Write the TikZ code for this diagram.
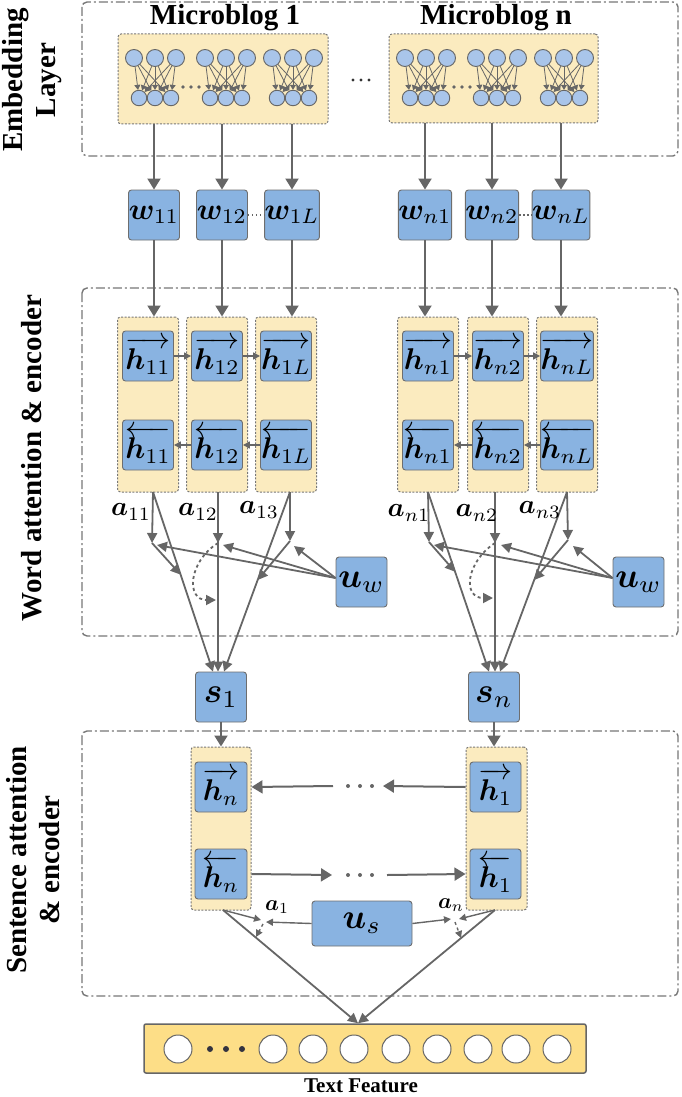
\documentclass[tikz,border=0pt]{standalone}
\usepackage{amsmath,bm}
\usepackage[no-math]{fontspec}
\setmainfont{Liberation Serif}
\usetikzlibrary{arrows.meta,calc}
\definecolor{lin}{HTML}{666666}
\definecolor{dsh}{HTML}{777777}
\definecolor{bord}{HTML}{6E6E6E}
\definecolor{blu}{HTML}{89B3E1}
\definecolor{cblu}{HTML}{A9C5EA}
\definecolor{yel}{HTML}{FBEBBF}
\definecolor{yeltwo}{HTML}{FDDE87}
\definecolor{dotc}{HTML}{333340}
\newcommand{\sidef}{\bfseries\fontsize{29}{33}\selectfont}
\newcommand{\mth}[2][3.0]{\scalebox{#1}{$#2$}}
\tikzset{
  outer/.style={draw=dsh, line width=1.4pt, dash pattern=on 9pt off 3pt on 2pt off 3pt, rounded corners=5pt},
  ybox/.style={draw=dsh, fill=yel, line width=1pt, dash pattern=on 2pt off 1.5pt, rounded corners=3pt, inner sep=0},
  bbox/.style={draw=bord, fill=blu, line width=0.9pt, rounded corners=3pt, minimum width=51pt, minimum height=50pt, inner sep=0},
  tc/.style={circle, draw=lin, fill=cblu, line width=0.9pt, minimum size=17pt, inner sep=0},
  bc/.style={tc, minimum size=15.5pt},
  narr/.style={draw=lin, line width=0.8pt, -{Triangle[length=5pt,width=6pt]}},
  arr/.style={draw=lin, line width=2pt, -{Triangle[length=11pt,width=13pt]}},
  sarr/.style={draw=lin, line width=1.5pt, -{Triangle[length=7pt,width=7pt]}},
  aarr/.style={draw=lin, line width=1.8pt, -{Triangle[length=10pt,width=10pt]}},
  tarr/.style={draw=lin, line width=1.4pt, -{Triangle[length=7pt,width=7pt]}},
  wcirc/.style={circle, draw=lin, fill=white, line width=1pt, minimum size=28pt, inner sep=0},
  title/.style={font=\sidef},
}
\begin{document}
\begin{tikzpicture}[x=1pt,y=-1pt]
\useasboundingbox (0,0) rectangle (681,1097);
% outer dash-dot boxes
\draw[outer] (82,2) rectangle (678,156);
\draw[outer] (82,288) rectangle (678,636);
\draw[outer] (82,731) rectangle (678,996);
% side labels
\node[title, rotate=90, align=center] (labE) at (32,80) {Embedding\\Layer};
\node[title, rotate=90] (labW) at (32,458) {Word attention \& encoder};
\node[title, rotate=90, align=center] (labS) at (33,860) {Sentence attention\\\& encoder};
% titles
\node[title] (mb1) at (225,18) {Microblog 1};
\node[title] (mbn) at (496,18) {Microblog n};
\foreach \x in {353,361,369} \fill[black!80] (\x,80) circle (1.7pt);
% embedding boxes
\node[ybox, minimum width=210pt, minimum height=90pt] (emb1) at (223,79) {};
\node[ybox, minimum width=209pt, minimum height=89pt] (embn) at (493.5,78.5) {};
\foreach \bx/\bn in {118/a,389/b} {
  \foreach \m/\g in {37/1,108/2,175/3} {
    \foreach \d/\i in {-21/1,0/2,21/3} \node[tc] (t\bn\g\i) at ({\bx+\m+(\d)},58) {};
    \foreach \d/\i in {-16/1,0/2,16/3} \node[bc] (b\bn\g\i) at ({\bx+\m+(\d)},98) {};
    \foreach \i in {1,2,3} \foreach \j in {1,2,3} \draw[narr] (t\bn\g\i) -- (b\bn\g\j);
  }
  \foreach \d in {65,73,81} \fill[lin] ({\bx+\d},87) circle (1.8pt);
}
% word boxes
\node[bbox] (w11) at (154,215) {\mth{\bm{w}_{11}}};
\node[bbox] (w12) at (222,215) {\mth{\bm{w}_{12}}};
\node[bbox] (w1L) at (292,215) {\mth{\bm{w}_{1L}}};
\node[bbox] (wn1) at (425,215) {\mth{\bm{w}_{n1}}};
\node[bbox] (wn2) at (492,215) {\mth{\bm{w}_{n2}}};
\node[bbox] (wnL) at (561,215) {\mth{\bm{w}_{nL}}};
\draw[lin, line width=1.5pt, dash pattern=on 1.5pt off 2.5pt] (w12) -- (w1L);
\draw[lin, line width=1.5pt, dash pattern=on 1.5pt off 2.5pt] (wn2) -- (wnL);
\foreach \w in {w11,w12,w1L} \draw[arr] (emb1.south -| \w) -- (\w);
\foreach \w in {wn1,wn2,wnL} \draw[arr] (embn.south -| \w) -- (\w);
% columns
\foreach \x/\n in {148/11,217/12,286/1L,428/n1,498/n2,567/nL}
  \node[ybox, minimum width=61pt, minimum height=175pt] (col\n) at (\x,404.5) {};
\foreach \n in {11,12,1L,n1,n2,nL} {
  \node[bbox] (hf\n) at ($(col\n.center)+(0,-48.5)$) {\mth{\overrightarrow{\bm{h}_{\n}}}};
  \node[bbox] (hb\n) at ($(col\n.center)+(0,40.5)$) {\mth{\overleftarrow{\bm{h}_{\n}}}};
}
\foreach \w/\n in {w11/11,w12/12,w1L/1L,wn1/n1,wn2/n2,wnL/nL} \draw[arr] (\w) -- (\w |- col\n.north);
\draw[sarr] (hf11) -- (hf12); \draw[sarr] (hf12) -- (hf1L);
\draw[sarr] (hb1L) -- (hb12); \draw[sarr] (hb12) -- (hb11);
\draw[sarr] (hfn1) -- (hfn2); \draw[sarr] (hfn2) -- (hfnL);
\draw[sarr] (hbnL) -- (hbn2); \draw[sarr] (hbn2) -- (hbn1);
% sentence vectors and context vectors
\node[bbox] (s1) at (221,697) {\mth[3.5]{\bm{s}_1}};
\node[bbox] (sn) at (494,697) {\mth[3.5]{\bm{s}_n}};
\node[bbox] (uw1) at (361.5,582) {\mth[3.5]{\bm{u}_w}};
\node[bbox] (uw2) at (638.5,582) {\mth[3.5]{\bm{u}_w}};
% word attention, left
\coordinate (L1) at (153,492); \coordinate (L2) at (218,492); \coordinate (L3) at (290,492);
\coordinate (P1) at (152,543); \coordinate (P2) at (218,543); \coordinate (P3) at (290,541);
\coordinate (S1a) at ([xshift=-8pt]s1.north);
\coordinate (S1b) at ([xshift=-3pt]s1.north);
\coordinate (S1c) at ([xshift=3pt]s1.north);
\draw[aarr] (L1) -- (S1a);
\draw[aarr] (L2) -- (S1b);
\draw[aarr] (L3) -- (S1c);
\draw[aarr] (L1) -- (P1);
\draw[aarr] (L2) -- (P2);
\draw[aarr] (L3) -- (P3);
\draw[aarr] (P1) -- ($(L1)!0.46!(S1a)$);
\draw[aarr] (P3) -- ($(L3)!0.49!(S1c)$);
\draw[aarr, dashed] (P2) .. controls (188,562) and (186,600) .. (216,600);
\draw[aarr] ([yshift=4pt]uw1.west) -- (157,545);
\draw[aarr] ([yshift=4pt]uw1.west) -- (223,545);
\draw[aarr] ([yshift=4pt]uw1.west) -- (294,546);
\node (a11) at (131,512) {\mth[2.7]{\bm{a}_{11}}};
\node (a12) at (198,512) {\mth[2.7]{\bm{a}_{12}}};
\node (a13) at (259,510) {\mth[2.7]{\bm{a}_{13}}};
% word attention, right
\coordinate (R1) at (428,492); \coordinate (R2) at (495,492); \coordinate (R3) at (567,492);
\coordinate (Q1) at (429,542); \coordinate (Q2) at (495,543); \coordinate (Q3) at (568,540);
\coordinate (Sna) at ([xshift=-5pt]sn.north);
\coordinate (Snb) at ([xshift=1pt]sn.north);
\coordinate (Snc) at ([xshift=6pt]sn.north);
\draw[aarr] (R1) -- (Sna);
\draw[aarr] (R2) -- (Snb);
\draw[aarr] (R3) -- (Snc);
\draw[aarr] (R1) -- (Q1);
\draw[aarr] (R2) -- (Q2);
\draw[aarr] (R3) -- (Q3);
\draw[aarr] (Q1) -- ($(R1)!0.444!(Sna)$);
\draw[aarr] (Q3) -- ($(R3)!0.49!(Snc)$);
\draw[aarr, dashed] (Q2) .. controls (466,562) and (462,598) .. (493,598);
\draw[aarr] ([yshift=4pt]uw2.west) -- (434,545);
\draw[aarr] ([yshift=4pt]uw2.west) -- (501,545);
\draw[aarr] ([yshift=4pt]uw2.west) -- (573,546);
\node (an1) at (409,513) {\mth[2.7]{\bm{a}_{n1}}};
\node (an2) at (477,513) {\mth[2.7]{\bm{a}_{n2}}};
\node (an3) at (540,510) {\mth[2.7]{\bm{a}_{n3}}};
% sentence encoder
\node[ybox, minimum width=60pt, minimum height=163pt] (cs1) at (221,828.5) {};
\node[ybox, minimum width=61pt, minimum height=163pt] (csn) at (496.5,828.5) {};
\node[bbox, minimum width=52pt] (hnf) at (221,787) {\mth{\overrightarrow{\bm{h}_{n}}}};
\node[bbox, minimum width=52pt] (hnb) at (221,874) {\mth{\overleftarrow{\bm{h}_{n}}}};
\node[bbox] (h1f) at (495.5,787) {\mth{\overrightarrow{\bm{h}_{1}}}};
\node[bbox] (h1b) at (495.5,874) {\mth{\overleftarrow{\bm{h}_{1}}}};
\draw[arr] (s1) -- (s1 |- cs1.north);
\draw[arr] (sn) -- (sn |- csn.north);
\coordinate (F1) at (383,786); \coordinate (F2) at (333,786);
\coordinate (G1) at (332,875); \coordinate (G2) at (387,875);
\draw[arr] (csn.west |- h1f) -- (F1);
\draw[arr] (F2) -- (cs1.east |- hnf);
\draw[arr] (cs1.east |- hnb) -- (G1);
\draw[arr] (G2) -- (csn.west |- h1b);
\foreach \x in {348,360,372} { \fill[lin] (\x,786) circle (2pt); \fill[lin] (\x,875) circle (2pt); }
\node[bbox, minimum width=100pt, minimum height=45pt] (us) at (362,923.5) {\mth[3.5]{\bm{u}_s}};
% text feature
\node[draw=lin, fill=yeltwo, line width=1.5pt, rounded corners=2pt, minimum width=442pt, minimum height=49pt, inner sep=0] (tf) at (365,1048.5) {};
\foreach \x [count=\k] in {178,273,313,354,396,437,478,516,557} \node[wcirc] (tfc\k) at (\x,1049) {};
\foreach \x in {210,226,242} \fill[dotc] (\x,1049) circle (3pt);
\node[font=\bfseries\fontsize{21}{24}\selectfont] (tft) at (361,1086) {Text Feature};
% sentence attention
\coordinate (B1) at (223,910); \coordinate (B2) at (495,910);
\coordinate (T) at ([xshift=-7pt]tf.north);
\draw[aarr] (B1) -- (T);
\draw[aarr] (B2) -- (T);
\draw[tarr] (B1) -- (261,920);
\draw[tarr] (us.west) -- (266,922);
\draw[tarr, dashed] (263,924) -- (256,937);
\draw[tarr] (us.east) -- (451,919);
\draw[tarr] (B2) -- (459,919);
\draw[tarr, dashed] (455,922) -- (461,938);
\node (la1) at (277,907) {\mth[2.2]{\bm{a}_{1}}};
\node (lan) at (451,905) {\mth[2.2]{\bm{a}_{n}}};
\end{tikzpicture}
\end{document}
